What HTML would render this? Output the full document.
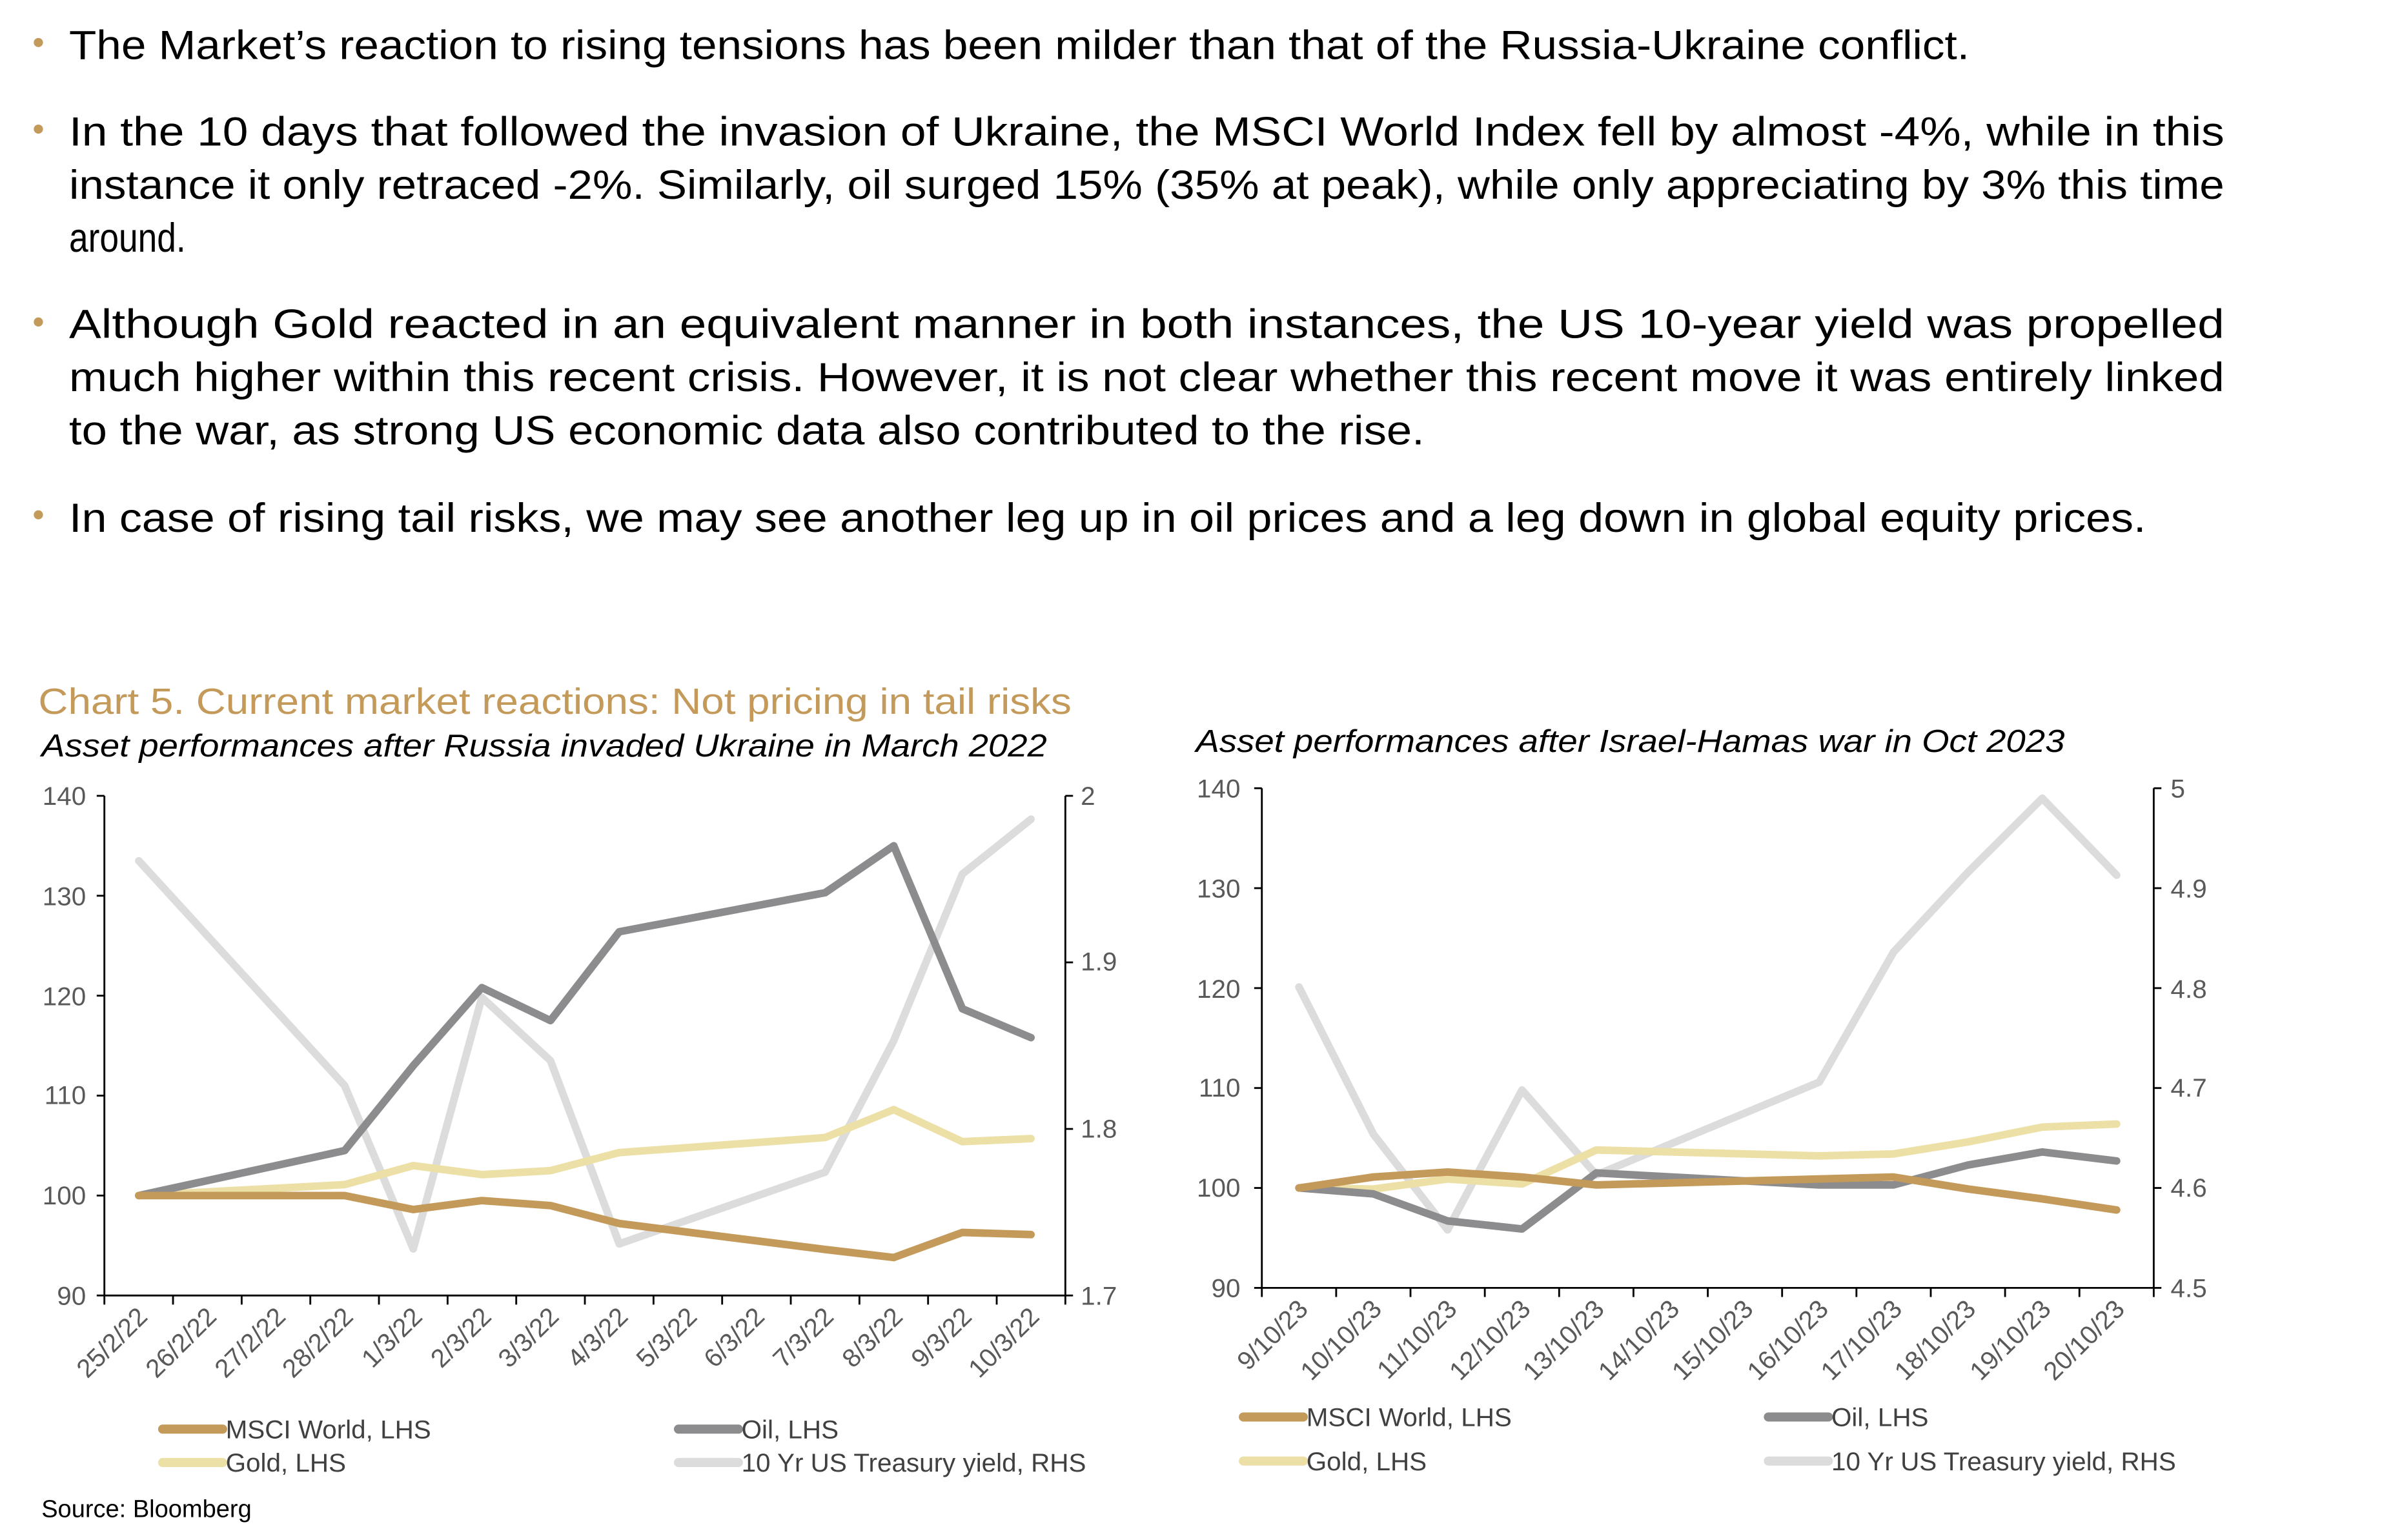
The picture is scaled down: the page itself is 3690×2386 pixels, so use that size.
<!DOCTYPE html>
<html><head><meta charset="utf-8"><style>
html,body{margin:0;padding:0;background:#fff;}
svg{display:block;}
text{font-family:"Liberation Sans",sans-serif;}
.b{font-size:27px;fill:#000;}
.t{font-size:17px;fill:#595959;}
.lg{font-size:17px;fill:#404040;}
</style></head><body>
<svg id="s" width="3690" height="2386" viewBox="0 0 1551.7 1014" preserveAspectRatio="none" xmlns="http://www.w3.org/2000/svg">
<rect width="1551.7" height="1014" fill="#fff"/>
<g fill="#C49A5A">
<circle cx="25" cy="28" r="3"/><circle cx="25" cy="85" r="3"/><circle cx="25" cy="212" r="3"/><circle cx="25" cy="339" r="3"/>
</g>
<g class="b" >
<text x="45" y="38.8" textLength="1238" lengthAdjust="spacingAndGlyphs">The Market’s reaction to rising tensions has been milder than that of the Russia-Ukraine conflict.</text>
<text x="45" y="95.8" textLength="1404" lengthAdjust="spacingAndGlyphs">In the 10 days that followed the invasion of Ukraine, the MSCI World Index fell by almost -4%, while in this</text>
<text x="45" y="130.8" textLength="1404" lengthAdjust="spacingAndGlyphs">instance it only retraced -2%. Similarly, oil surged 15% (35% at peak), while only appreciating by 3% this time</text>
<text x="45" y="165.8" textLength="76" lengthAdjust="spacingAndGlyphs">around.</text>
<text x="45" y="222.5" textLength="1404" lengthAdjust="spacingAndGlyphs">Although Gold reacted in an equivalent manner in both instances, the US 10-year yield was propelled</text>
<text x="45" y="257.5" textLength="1404" lengthAdjust="spacingAndGlyphs">much higher within this recent crisis. However, it is not clear whether this recent move it was entirely linked</text>
<text x="45" y="292.5" textLength="883" lengthAdjust="spacingAndGlyphs">to the war, as strong US economic data also contributed to the rise.</text>
<text x="45" y="350.2" textLength="1353" lengthAdjust="spacingAndGlyphs">In case of rising tail risks, we may see another leg up in oil prices and a leg down in global equity prices.</text>
</g>
<text x="25" y="470" font-size="24" fill="#C49A5A" textLength="673" lengthAdjust="spacingAndGlyphs">Chart 5. Current market reactions: Not pricing in tail  risks</text>
<text x="27" y="498" font-size="21" font-style="italic" fill="#000" textLength="655" lengthAdjust="spacingAndGlyphs">Asset performances after Russia invaded Ukraine in March 2022</text>
<text x="779" y="495" font-size="21" font-style="italic" fill="#000" textLength="566" lengthAdjust="spacingAndGlyphs">Asset performances after Israel-Hamas war in Oct 2023</text>

<g id="axes" stroke="#000" stroke-width="1.2" fill="none"></g>
<g id="lines" fill="none" stroke-width="5" stroke-linejoin="round" stroke-linecap="round"></g>

<g class="t" text-anchor="end">
<text x="56" y="530">140</text><text x="56" y="596">130</text><text x="56" y="662">120</text><text x="56" y="727">110</text><text x="56" y="793">100</text><text x="56" y="859">90</text>
<text x="808" y="525">140</text><text x="808" y="591">130</text><text x="808" y="657">120</text><text x="808" y="722">110</text><text x="808" y="788">100</text><text x="808" y="854">90</text>
</g>
<g class="t">
<text x="704" y="530">2</text><text x="704" y="639">1.9</text><text x="704" y="749">1.8</text><text x="704" y="859">1.7</text>
<text x="1414" y="525">5</text><text x="1414" y="591">4.9</text><text x="1414" y="657">4.8</text><text x="1414" y="722">4.7</text><text x="1414" y="788">4.6</text><text x="1414" y="854">4.5</text>
</g>
<g class="t" text-anchor="end">
<text transform="translate(97,868) rotate(-45)">25/2/22</text>
<text transform="translate(142,868) rotate(-45)">26/2/22</text>
<text transform="translate(187,868) rotate(-45)">27/2/22</text>
<text transform="translate(231,868) rotate(-45)">28/2/22</text>
<text transform="translate(276,868) rotate(-45)">1/3/22</text>
<text transform="translate(321,868) rotate(-45)">2/3/22</text>
<text transform="translate(365,868) rotate(-45)">3/3/22</text>
<text transform="translate(410,868) rotate(-45)">4/3/22</text>
<text transform="translate(455,868) rotate(-45)">5/3/22</text>
<text transform="translate(499,868) rotate(-45)">6/3/22</text>
<text transform="translate(544,868) rotate(-45)">7/3/22</text>
<text transform="translate(589,868) rotate(-45)">8/3/22</text>
<text transform="translate(634,868) rotate(-45)">9/3/22</text>
<text transform="translate(678,868) rotate(-45)">10/3/22</text>
<text transform="translate(853,863) rotate(-45)">9/10/23</text>
<text transform="translate(901,863) rotate(-45)">10/10/23</text>
<text transform="translate(950,863) rotate(-45)">11/10/23</text>
<text transform="translate(998,863) rotate(-45)">12/10/23</text>
<text transform="translate(1046,863) rotate(-45)">13/10/23</text>
<text transform="translate(1095,863) rotate(-45)">14/10/23</text>
<text transform="translate(1143,863) rotate(-45)">15/10/23</text>
<text transform="translate(1192,863) rotate(-45)">16/10/23</text>
<text transform="translate(1240,863) rotate(-45)">17/10/23</text>
<text transform="translate(1288,863) rotate(-45)">18/10/23</text>
<text transform="translate(1337,863) rotate(-45)">19/10/23</text>
<text transform="translate(1385,863) rotate(-45)">20/10/23</text>
</g>
<g stroke-width="6" stroke-linecap="round">
<line x1="106" y1="941" x2="145" y2="941" stroke="#C49A5A"/>
<line x1="442" y1="941" x2="481" y2="941" stroke="#8C8C8E"/>
<line x1="106" y1="963" x2="145" y2="963" stroke="#EDE0A6"/>
<line x1="442" y1="963" x2="481" y2="963" stroke="#DCDCDC"/>
<line x1="810" y1="933" x2="849" y2="933" stroke="#C49A5A"/>
<line x1="1152" y1="933" x2="1191" y2="933" stroke="#8C8C8E"/>
<line x1="810" y1="962" x2="849" y2="962" stroke="#EDE0A6"/>
<line x1="1152" y1="962" x2="1191" y2="962" stroke="#DCDCDC"/>
</g>
<g class="lg">
<text x="147" y="947">MSCI World, LHS</text>
<text x="483" y="947">Oil, LHS</text>
<text x="147" y="969">Gold, LHS</text>
<text x="483" y="969">10 Yr US Treasury yield, RHS</text>
<text x="851" y="939">MSCI World, LHS</text>
<text x="1193" y="939">Oil, LHS</text>
<text x="851" y="968">Gold, LHS</text>
<text x="1193" y="968">10 Yr US Treasury yield, RHS</text>
</g>
<text x="27" y="999" font-size="16" fill="#000">Source: Bloomberg</text>
</svg>
<script>
(function(){
var NS="http://www.w3.org/2000/svg";
var ax=document.getElementById("axes"),ln=document.getElementById("lines");
function L(x1,y1,x2,y2){var e=document.createElementNS(NS,"line");e.setAttribute("x1",x1);e.setAttribute("y1",y1);e.setAttribute("x2",x2);e.setAttribute("y2",y2);ax.appendChild(e);}
function P(pts,c){var e=document.createElementNS(NS,"polyline");e.setAttribute("points",pts.map(function(p){return p[0].toFixed(1)+","+p[1].toFixed(1)}).join(" "));e.setAttribute("stroke",c);ln.appendChild(e);}
function chart(c){
 L(c.x0,c.top,c.x0,c.bot);L(c.x1,c.top,c.x1,c.bot);L(c.x0,c.bot,c.x1,c.bot);
 var h=(c.bot-c.top);
 for(var k=0;k<=5;k++){var y=c.top+h*k/5;L(c.x0-5,y,c.x0,y);}
 for(var k=0;k<=c.rn;k++){var y=c.top+h*k/c.rn;L(c.x1,y,c.x1+5,y);}
 var w=(c.x1-c.x0)/c.n;
 for(var k=0;k<=c.n;k++){L(c.x0+w*k,c.bot,c.x0+w*k,c.bot+6);}
 function X(i){return c.x0+w/2+w*i;}
 function YL(v){return c.bot-(v-90)/50*h;}
 function YR(v){return c.bot-(v-c.rmin)/(c.rmax-c.rmin)*h;}
 var order=[[c.yld,"#DCDCDC",YR],[c.gold,"#EDE0A6",YL],[c.oil,"#8C8C8E",YL],[c.msci,"#C49A5A",YL]];
 order.forEach(function(s){P(s[0].map(function(d){return [X(d[0]),s[2](d[1])]}),s[1]);});
}
chart({x0:68,x1:694,top:524,bot:853,n:14,rn:3,rmin:1.7,rmax:2.0,
 msci:[[0,100],[3,100],[4,98.6],[5,99.5],[6,99],[7,97.2],[10,94.6],[11,93.8],[12,96.3],[13,96.1]],
 oil:[[0,100],[3,104.5],[4,113],[5,120.8],[6,117.5],[7,126.4],[10,130.3],[11,135],[12,118.7],[13,115.8]],
 gold:[[0,100],[3,101.1],[4,103],[5,102.1],[6,102.5],[7,104.3],[10,105.8],[11,108.6],[12,105.4],[13,105.7]],
 yld:[[0,1.961],[3,1.826],[4,1.728],[5,1.879],[6,1.841],[7,1.731],[10,1.774],[11,1.853],[12,1.953],[13,1.986]]});
chart({x0:822,x1:1403,top:519,bot:848,n:12,rn:5,rmin:4.5,rmax:5.0,
 msci:[[0,100],[1,101.1],[2,101.6],[3,101.1],[4,100.3],[7,100.9],[8,101.1],[9,99.9],[10,98.9],[11,97.8]],
 oil:[[0,100],[1,99.4],[2,96.7],[3,95.9],[4,101.5],[7,100.3],[8,100.3],[9,102.3],[10,103.6],[11,102.7]],
 gold:[[0,100],[1,99.9],[2,100.9],[3,100.4],[4,103.8],[7,103.2],[8,103.4],[9,104.6],[10,106.1],[11,106.4]],
 yld:[[0,4.801],[1,4.654],[2,4.558],[3,4.698],[4,4.613],[7,4.706],[8,4.836],[9,4.916],[10,4.990],[11,4.913]]});
})();
</script>
</body></html>
